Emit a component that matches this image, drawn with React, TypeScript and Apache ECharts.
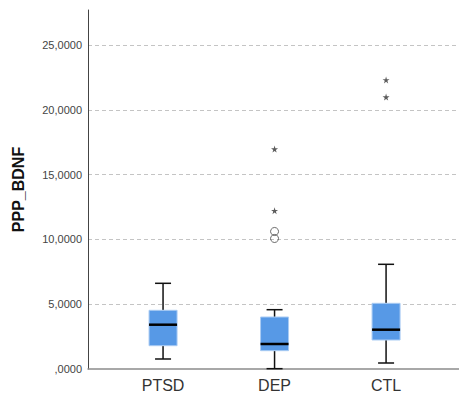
import React, { useEffect, useRef } from "react";
import * as echarts from "echarts";

const categories = ["PTSD", "DEP", "CTL"];
const whiskerLow = [772, 25, 463];
const quartile1 = [1798, 1414, 2238];
const medians = [3418, 1929, 3033];
const quartile3 = [4529, 4012, 5069];
const whiskerHigh = [6612, 4576, 8078];
// outliers: [category index (1-based), value]
const circleOutliers = [[2, 10070], [2, 10610]];
const starOutliers = [[2, 12215], [2, 16975], [3, 20987], [3, 22300]];
const yTicks = [0, 5000, 10000, 15000, 20000, 25000];

const STAR =
  "path://M50,0 L61,35 L98,35 L68,57 L79,91 L50,70 L21,91 L32,57 L2,35 L39,35 Z";

const fmt = (v: number) => {
  if (v === 0) return ",0000";
  const s = String(Math.round(v / 1000));
  return s + ",0000";
};

export default function App() {
  const ref = useRef<HTMLDivElement>(null);
  useEffect(() => {
    document.body.style.margin = "0";
    if (!ref.current) return;
    const chart = echarts.init(ref.current, null, { renderer: "svg" });
    const boxData = categories.map((_, i) => [
      i + 1,
      whiskerLow[i],
      quartile1[i],
      medians[i],
      quartile3[i],
      whiskerHigh[i],
    ]);
    chart.setOption({
      animation: false,
      textStyle: { fontFamily: "Liberation Sans, Arial, sans-serif" },
      grid: { left: 88, right: 0, top: 10, bottom: 27, containLabel: false },
      xAxis: {
        type: "value",
        min: 0.327,
        max: 3.654,
        splitLine: { show: false },
        axisTick: { show: false },
        axisLine: { show: true, lineStyle: { color: "#8c8c8c", width: 1.5 } },
        axisLabel: {
          customValues: [1, 2, 3],
          formatter: (v: number) => categories[Math.round(v) - 1] || "",
          color: "#333",
          fontSize: 16,
          margin: 8,
        },
      },
      yAxis: {
        type: "value",
        min: 0,
        max: 27700,
        interval: 5000,
        name: "PPP_BDNF",
        nameLocation: "middle",
        nameRotate: 90,
        nameGap: 62,
        nameTextStyle: { fontSize: 16, fontWeight: "bold", color: "#111" },
        axisLine: { show: true, lineStyle: { color: "#444", width: 1 } },
        axisTick: { show: false },
        axisLabel: {
          showMaxLabel: false,
          formatter: (v: number) => (yTicks.indexOf(v) >= 0 ? fmt(v) : ""),
          color: "#444",
          fontSize: 11,
          margin: 6,
        },
        splitLine: {
          show: true,
          showMinLine: false,
          showMaxLine: false,
          lineStyle: { color: "#c4c4c4", type: [4, 3], width: 1 },
        },
      },
      series: [
        {
          type: "custom",
          data: boxData,
          encode: { x: 0, y: [1, 2, 3, 4, 5] },
          renderItem: (params: any, api: any) => {
            const x = api.value(0);
            const pLow = api.coord([x, api.value(1)]);
            const pQ1 = api.coord([x, api.value(2)]);
            const pMed = api.coord([x, api.value(3)]);
            const pQ3 = api.coord([x, api.value(4)]);
            const pHigh = api.coord([x, api.value(5)]);
            const cx = pMed[0];
            const bw = 28;
            const cw = 16;
            const lineStyle = { stroke: "#111", lineWidth: 1.5 };
            return {
              type: "group",
              children: [
                { type: "line", shape: { x1: cx, y1: pHigh[1], x2: cx, y2: pQ3[1] }, style: lineStyle },
                { type: "line", shape: { x1: cx, y1: pQ1[1], x2: cx, y2: pLow[1] }, style: lineStyle },
                { type: "line", shape: { x1: cx - cw / 2, y1: pHigh[1], x2: cx + cw / 2, y2: pHigh[1] }, style: lineStyle },
                { type: "line", shape: { x1: cx - cw / 2, y1: pLow[1], x2: cx + cw / 2, y2: pLow[1] }, style: lineStyle },
                {
                  type: "rect",
                  shape: { x: cx - bw / 2, y: pQ3[1], width: bw, height: pQ1[1] - pQ3[1] },
                  style: { fill: "#5799e6", stroke: "#a9cbf3", lineWidth: 1 },
                },
                {
                  type: "line",
                  shape: { x1: cx - bw / 2, y1: pMed[1], x2: cx + bw / 2, y2: pMed[1] },
                  style: { stroke: "#000", lineWidth: 2.5 },
                },
              ],
            };
          },
        },
        {
          type: "scatter",
          data: circleOutliers,
          symbol: "circle",
          symbolSize: 8,
          itemStyle: { color: "rgba(0,0,0,0)", borderColor: "#444", borderWidth: 1 },
        },
        {
          type: "scatter",
          data: starOutliers,
          symbol: STAR,
          symbolSize: 7,
          itemStyle: { color: "#333" },
        },
      ],
    });
    return () => chart.dispose();
  }, []);
  return <div ref={ref} style={{ width: 459, height: 396 }} />;
}
